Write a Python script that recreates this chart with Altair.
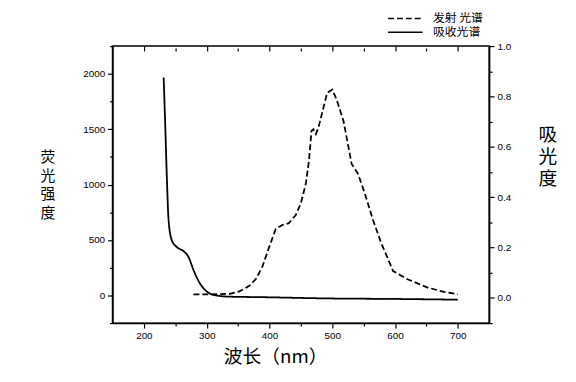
import altair as alt
import pandas as pd

# Emission spectrum (left axis, fluorescence intensity)
em_x = [279, 310, 337, 352, 368, 379, 389, 400, 410, 421, 431, 442, 450, 458, 463, 467,
        470, 474, 478, 486, 492, 500, 507, 518, 531, 541, 552, 565, 578, 597, 620, 652, 678, 700]
em_y = [10, 10, 15, 36, 86, 152, 264, 443, 598, 637, 652, 726, 830, 1009, 1217, 1485,
        1500, 1455, 1514, 1693, 1827, 1857, 1768, 1574, 1187, 1098, 920, 681, 473, 220, 146, 71, 32, 12]

# Absorption spectrum (right axis, absorbance)
ab_x = [231.5, 234, 236.8, 239.4, 244.6, 252.5, 263, 271, 279, 289, 300, 315, 337, 389, 494, 600, 700]
ab_y = [0.875, 0.684, 0.462, 0.306, 0.228, 0.202, 0.186, 0.163, 0.111, 0.059, 0.026, 0.010,
        0.005, 0.003, -0.002, -0.004, -0.007]

series_names = ["发射 光谱", "吸收光谱"]

x_ticks = list(range(200, 701, 50))
yl_ticks = list(range(-250, 2251, 250))
yr_ticks = [round(-0.1 + 0.1 * i, 1) for i in range(12)]

em_df = pd.DataFrame({"x": em_x, "y": em_y, "series": series_names[0]})
ab_df = pd.DataFrame({"x": ab_x, "y": ab_y, "series": series_names[1]})

CJK = "Noto Sans CJK SC"
LAT = "Liberation Sans"

dash = alt.StrokeDash(
    "series:N",
    scale=alt.Scale(domain=series_names, range=[[6, 3], [1, 0]]),
    legend=alt.Legend(
        title=None, orient="none", legendX=289, legendY=-36,
        symbolType="M-2.5,0H2.5", symbolSize=196, symbolStrokeWidth=1.6,
        symbolStrokeColor="black", labelFont=CJK, labelFontSize=12,
        labelColor="black", rowPadding=0, padding=0, labelOffset=20,
    ),
)

x_scale = alt.Scale(domain=[150, 750], nice=False, zero=False)

em = alt.Chart(em_df).mark_line(color="black", strokeWidth=1.8).encode(
    x=alt.X("x:Q", scale=x_scale,
            axis=alt.Axis(values=x_ticks, title="波长（nm）",
                          labelExpr="datum.value % 100 === 0 ? datum.value : ''",
                          tickSize={"condition": {"test": "datum.value % 100 !== 0", "value": 3}, "value": 5},
                          labelFont=LAT, labelFontSize=10, labelColor="black", labelPadding=3,
                          labelFlush=False, labelOverlap=False,
                          titleFont=CJK, titleFontSize=19, titleFontWeight="normal", titleColor="black",
                          titleX=165, titleY=34, titleAlign="center", titleBaseline="middle",
                          domainColor="black", domainWidth=1.5, tickColor="black", tickWidth=1.2,
                          grid=False)),
    y=alt.Y("y:Q", scale=alt.Scale(domain=[-250, 2250], nice=False, zero=False),
            axis=alt.Axis(values=yl_ticks, title=["荧", "光", "强", "度"],
                          labelExpr="datum.value % 500 === 0 ? datum.value : ''",
                          tickSize={"condition": {"test": "datum.value % 500 !== 0", "value": 3}, "value": 5},
                          labelFont=LAT, labelFontSize=10, labelColor="black", labelPadding=3,
                          labelFlush=False, labelOverlap=False,
                          titleFont=CJK, titleFontSize=15, titleFontWeight="normal", titleColor="black",
                          titleAngle=0, titleX=-66, titleY=105, titleAlign="center",
                          titleBaseline="top", titleLineHeight=19,
                          domainColor="black", domainWidth=1.5, tickColor="black", tickWidth=1.2,
                          grid=False)),
    strokeDash=dash,
)

ab = alt.Chart(ab_df).mark_line(color="black", strokeWidth=1.8, interpolate="monotone").encode(
    x=alt.X("x:Q", scale=x_scale,
            axis=alt.Axis(values=x_ticks, orient="top", labels=False, title=None, domain=False,
                          offset=-5,
                          tickSize={"condition": {"test": "datum.value % 100 !== 0", "value": 3}, "value": 5},
                          tickColor="black", tickWidth=1.2, grid=False)),
    y=alt.Y("y:Q", scale=alt.Scale(domain=[-0.1, 1.0], nice=False, zero=False),
            axis=alt.Axis(values=yr_ticks, orient="right", title=["吸", "光", "度"],
                          labelExpr="round(datum.value*10) % 2 === 0 ? format(datum.value, '.1f') : ''",
                          tickSize={"condition": {"test": "round(datum.value*10) % 2 !== 0", "value": 3}, "value": 5},
                          labelFont=LAT, labelFontSize=10, labelColor="black", labelPadding=3,
                          labelFlush=False, labelOverlap=False,
                          titleFont=CJK, titleFontSize=19, titleFontWeight="normal", titleColor="black",
                          titleAngle=0, titleX=59, titleY=81, titleAlign="center",
                          titleBaseline="top", titleLineHeight=22,
                          domainColor="black", domainWidth=1.5, tickColor="black", tickWidth=1.2,
                          grid=False)),
    strokeDash=dash,
)

chart = alt.layer(em, ab).resolve_scale(
    y="independent", x="shared", strokeDash="shared"
).resolve_axis(x="independent").properties(
    width=382, height=281,
    autosize=alt.AutoSizeParams(type="none"),
    padding={"left": 106, "top": 36, "right": 80, "bottom": 50},
    background="white",
).configure_view(stroke="black", strokeWidth=1.5)

chart.save("out.html", embed_options={"renderer": "svg", "actions": False})
